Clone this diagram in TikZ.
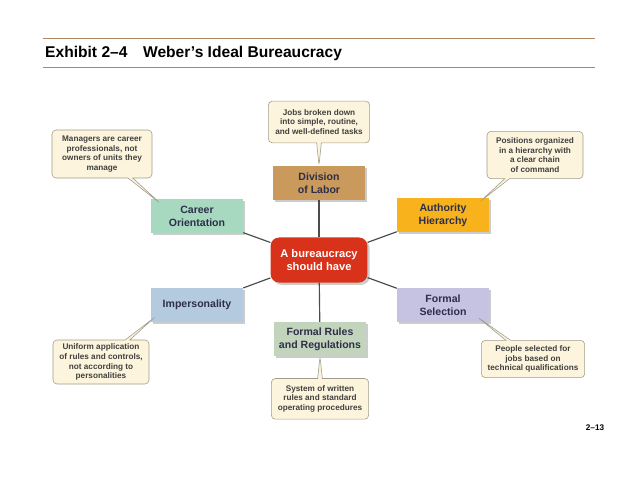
\documentclass[tikz,border=0pt]{standalone}
\usepackage{fontspec}
\setmainfont{Liberation Sans}
\usepackage{tikz}
\usetikzlibrary{positioning, shapes.callouts, shadows}

\definecolor{hubred}{HTML}{D8321A}
\definecolor{divtan}{HTML}{C99A5B}
\definecolor{carmint}{HTML}{A6D9BF}
\definecolor{authgold}{HTML}{F7B21C}
\definecolor{impblue}{HTML}{B3CADF}
\definecolor{sellilac}{HTML}{C6C2E2}
\definecolor{rulesage}{HTML}{C2D5BC}
\definecolor{notefill}{HTML}{FCF4DC}
\definecolor{notedraw}{HTML}{A09E8C}
\definecolor{boxtext}{HTML}{2E2E48}
\definecolor{rulebrown}{HTML}{B08660}

\begin{document}
\begin{tikzpicture}[
    x=0.03cm, y=-0.03cm,
    box/.style={rectangle, minimum width=2.76cm, minimum height=1.02cm, align=center,
                font=\fontsize{9}{11}\selectfont\bfseries, text=boxtext, inner sep=1pt,
                drop shadow={shadow xshift=0.07cm, shadow yshift=-0.07cm, opacity=0.4}},
    hub/.style={rectangle, fill=hubred, rounded corners=0.25cm, minimum width=2.9cm,
                minimum height=1.35cm, align=center, text=white,
                font=\fontsize{9.5}{11.5}\selectfont\bfseries,
                drop shadow={shadow xshift=0.07cm, shadow yshift=-0.07cm, opacity=0.4}},
    note/.style={rectangle callout, draw=notedraw, fill=notefill, line width=0.5pt,
                 rounded corners=0.12cm, align=center, inner sep=1pt,
                 font=\fontsize{7}{8.4}\selectfont\bfseries, text=black!75,
                 callout pointer width=0.14cm},
    link/.style={draw=black!70, line width=0.035cm},
    rule/.style={draw=rulebrown, line width=0.03cm}
]
    \useasboundingbox (0,0) rectangle (638,479);

    \draw [rule] (43,39) -- (595,39);
    \draw [rule] (43,68) -- (595,68);
    \node [anchor=base west, inner sep=0pt, font=\fontsize{13.3}{15}\selectfont\bfseries] (title)
          at (45,58) {Exhibit 2–4\quad Weber’s Ideal Bureaucracy};
    \node [inner sep=0pt, font=\fontsize{7}{8}\selectfont\bfseries] (page) at (595,428) {2–13};

    \node [hub] (hub) at (319,260) {A bureaucracy\\should have};
    \node [box, fill=divtan] (div) at (319,183) {Division\\of Labor};
    \node [box, fill=carmint] (car) at (197,216) {Career\\Orientation};
    \node [box, fill=authgold] (auth) at (443,215) {Authority\\Hierarchy};
    \node [box, fill=impblue] (imp) at (197,305) {Impersonality};
    \node [box, fill=sellilac] (sel) at (443,305) {Formal\\Selection};
    \node [box, fill=rulesage] (rules) at (320,339) {Formal Rules\\and Regulations};

    \draw [link] (hub) -- (div);
    \draw [link] (hub) -- (car);
    \draw [link] (hub) -- (auth);
    \draw [link] (hub) -- (imp);
    \draw [link] (hub) -- (sel);
    \draw [link] (hub) -- (rules);

    \node [note, minimum width=3.04cm, minimum height=1.25cm, above=0.68cm of div,
           callout absolute pointer={(div.north)}] (divnote)
          {Jobs broken down\\into simple, routine,\\and well-defined tasks};
    \node [note, minimum width=3.0cm, minimum height=1.44cm,
           callout absolute pointer={([xshift=0.3cm, yshift=-0.15cm]car.north west)}] (carnote)
          at (102,154) {Managers are career\\professionals, not\\owners of units they\\manage};
    \node [note, minimum width=2.88cm, minimum height=1.42cm,
           callout absolute pointer={([xshift=-0.28cm, yshift=-0.12cm]auth.north east)}] (authnote)
          at (535,155) {Positions organized\\in a hierarchy with\\a clear chain\\of command};
    \node [note, minimum width=2.88cm, minimum height=1.32cm,
           callout absolute pointer={([xshift=0.12cm, yshift=0.15cm]imp.south west)}] (impnote)
          at (101,362) {Uniform application\\of rules and controls,\\not according to\\personalities};
    \node [note, minimum width=2.92cm, minimum height=1.22cm, below=0.66cm of rules,
           callout absolute pointer={(rules.south)}] (rulesnote)
          {System of written\\rules and standard\\operating procedures};
    \node [note, minimum width=3.1cm, minimum height=1.12cm,
           callout absolute pointer={([xshift=-0.36cm, yshift=0.16cm]sel.south east)}] (selnote)
          at (533,359) {People selected for\\jobs based on\\technical qualifications};
\end{tikzpicture}
\end{document}
